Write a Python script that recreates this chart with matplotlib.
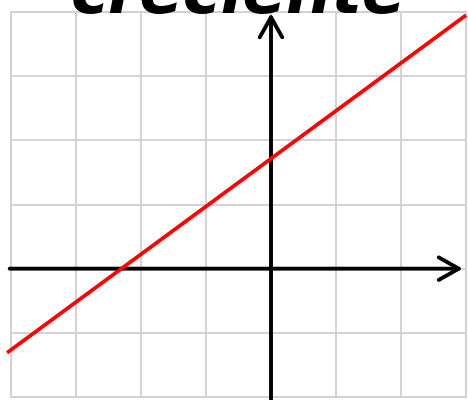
import matplotlib
matplotlib.use("Agg")
import matplotlib.pyplot as plt

# Data
title_text = "creciente"
x_range = [-4, 3]
y_range = [-2, 4]
grid_x = [-4, -3, -2, -1, 0, 1, 2, 3]
grid_y = [-2, -1, 0, 1, 2, 3, 4]
line_x = [-4.06, 3.0]
line_y = [-1.31, 3.95]

fig = plt.figure(figsize=(4.68, 4.0), dpi=100)
ax = fig.add_axes([11/468, 3/400, 455/468, 385/400])
ax.set_xlim(x_range)
ax.set_ylim(y_range)
ax.set_xticks(grid_x)
ax.set_yticks(grid_y)
ax.grid(True, color="#d0d0d0", linewidth=1.3)
ax.tick_params(length=0, labelbottom=False, labelleft=False)
for s in ax.spines.values():
    s.set_color("#d0d0d0")
    s.set_linewidth(1.3)
ax.set_axisbelow(True)

# Axes with arrows
ax.annotate("", xy=(2.95, 0), xytext=(-4.02, 0),
            arrowprops=dict(arrowstyle="->,head_length=0.8,head_width=0.45",
                            mutation_scale=18, lw=2.8, color="black",
                            shrinkA=0, shrinkB=0),
            annotation_clip=False)
ax.annotate("", xy=(0, 3.98), xytext=(0, -2.1),
            arrowprops=dict(arrowstyle="->,head_length=0.8,head_width=0.45",
                            mutation_scale=18, lw=2.8, color="black",
                            shrinkA=0, shrinkB=0),
            annotation_clip=False)

# Red increasing line
ax.plot(line_x, line_y, color="#ff0000", linewidth=2.7, clip_on=False,
        solid_capstyle="butt", zorder=5)

# Cursive-like title, mostly cut off at top
fig.text(0.51, 0.968, title_text, ha="center", va="baseline",
         fontsize=46, fontstyle="italic", fontweight="bold",
         family="DejaVu Sans", color="black")

fig.savefig("out.png", dpi=100)
